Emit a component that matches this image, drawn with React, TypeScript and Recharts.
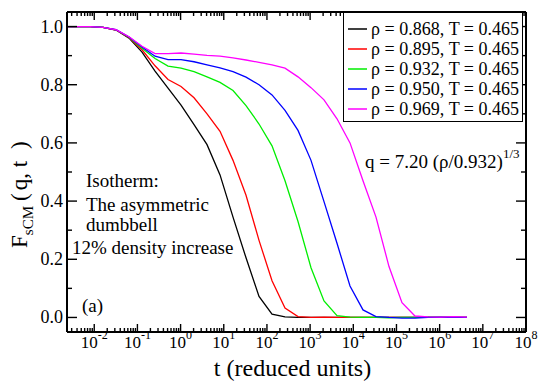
import React from "react";
import { LineChart, Line, XAxis, YAxis, Legend } from "recharts";

// time grid (reduced units), doubling each step
const TIMES = [
  0.002, 0.004, 0.008, 0.016, 0.032, 0.064, 0.128, 0.256, 0.512, 1.024, 2.048,
  4.096, 8.192, 16.384, 32.768, 65.536, 131.072, 262.144, 524.288, 1048.576,
  2097.152, 4194.304, 8388.608, 16777.216, 33554.432, 67108.864, 134217.728,
  268435.456, 536870.912, 1073741.824, 2147483.648, 4294967.296,
];

// F_sCM(q, t) for each density at T = 0.465
const F_0868 = [
  1.0, 1.0, 1.0, 0.997, 0.988, 0.96, 0.912, 0.847, 0.788, 0.73, 0.663, 0.594,
  0.49, 0.345, 0.205, 0.072, 0.011, 0.002, 0.0, 0.0, 0.0, 0.0, 0.0, 0.0, 0.0,
  0.0, 0.0, 0.0, 0.0, 0.0, 0.0, 0.0,
];
const F_0895 = [
  1.0, 1.0, 1.0, 0.997, 0.988, 0.962, 0.92, 0.865, 0.818, 0.794, 0.755, 0.7,
  0.64, 0.54, 0.42, 0.265, 0.126, 0.032, 0.003, 0.0, 0.001, 0.0, 0.0, 0.0, 0.0,
  0.0, 0.0, 0.0, 0.0, 0.0, 0.0, 0.0,
];
const F_0932 = [
  1.0, 1.0, 1.0, 0.997, 0.989, 0.963, 0.925, 0.89, 0.864, 0.857, 0.845, 0.827,
  0.808, 0.78, 0.728, 0.665, 0.59, 0.47, 0.33, 0.171, 0.057, 0.006, 0.001, 0.0,
  0.0, -0.001, 0.0, 0.0, 0.001, 0.0, 0.0, 0.0,
];
const F_0950 = [
  1.0, 1.0, 1.0, 0.997, 0.989, 0.964, 0.93, 0.898, 0.886, 0.886, 0.879, 0.868,
  0.858, 0.845, 0.826, 0.8, 0.765, 0.712, 0.643, 0.54, 0.398, 0.255, 0.108,
  0.026, 0.003, 0.0, -0.002, -0.002, 0.0, 0.001, 0.0, 0.0,
];
const F_0969 = [
  1.0, 1.0, 1.0, 0.997, 0.989, 0.965, 0.932, 0.907, 0.907, 0.909, 0.905, 0.901,
  0.898, 0.892, 0.885, 0.877, 0.868, 0.857, 0.827, 0.79, 0.748, 0.683, 0.6,
  0.47, 0.345, 0.175, 0.051, 0.005, 0.002, 0.001, 0.003, 0.001,
];

const SERIES_NAMES = [
  "ρ = 0.868, T = 0.465",
  "ρ = 0.895, T = 0.465",
  "ρ = 0.932, T = 0.465",
  "ρ = 0.950, T = 0.465",
  "ρ = 0.969, T = 0.465",
];
const SERIES_VALUES = [F_0868, F_0895, F_0932, F_0950, F_0969];
const COLORS = ["#000000", "#ff0000", "#00ee00", "#0000ff", "#ff00ff"];

// axes
const X_MIN = 0.00234;
const X_MAX = 1e8;
const Y_TICKS = [0, 0.1, 0.2, 0.3, 0.4, 0.5, 0.6, 0.7, 0.8, 0.9, 1.0];

const FONT = "Liberation Serif, DejaVu Serif, serif";

const X_TICKS: number[] = [];
for (let e = -3; e <= 7; e++) {
  for (let m = 1; m <= 9; m++) {
    const v = m * Math.pow(10, e);
    if (v > X_MIN && v < X_MAX) X_TICKS.push(v);
  }
}
X_TICKS.push(X_MAX);

const data = TIMES.map((t, i) => {
  const row: Record<string, number> = { t };
  SERIES_VALUES.forEach((vals, j) => {
    row[`s${j}`] = vals[i];
  });
  return row;
});

const isMajorX = (v: number) => {
  const lg = Math.log10(v);
  return Math.abs(lg - Math.round(lg)) < 1e-6;
};
const isMajorY = (v: number) => Math.abs(v * 5 - Math.round(v * 5)) < 1e-6;

const txt = { fontFamily: FONT, fill: "#000" };

const BottomTick = ({ x, y, payload }: any) => {
  const major = isMajorX(payload.value);
  const e = Math.round(Math.log10(payload.value));
  return (
    <g>
      <line x1={x} x2={x} y1={y} y2={y - (major ? 8 : 4)} stroke="#000" strokeWidth={1.4} />
      {major && (
        <text x={x} y={y + 16} textAnchor="middle" style={txt} fontSize={17}>
          10
          <tspan dy={-9} fontSize={12}>
            {e}
          </tspan>
        </text>
      )}
    </g>
  );
};

const TopTick = ({ x, y, payload }: any) => {
  const major = isMajorX(payload.value);
  return <line x1={x} x2={x} y1={y} y2={y + (major ? 8 : 4)} stroke="#000" strokeWidth={1.4} />;
};

const LeftTick = ({ x, y, payload }: any) => {
  const major = isMajorY(payload.value);
  return (
    <g>
      <line x1={x} x2={x + (major ? 10 : 5)} y1={y} y2={y} stroke="#000" strokeWidth={1.4} />
      {major && (
        <text x={x - 4} y={y + 6} textAnchor="end" style={txt} fontSize={18}>
          {payload.value.toFixed(1)}
        </text>
      )}
    </g>
  );
};

const RightTick = ({ x, y, payload }: any) => {
  const major = isMajorY(payload.value);
  return <line x1={x} x2={x - (major ? 10 : 5)} y1={y} y2={y} stroke="#000" strokeWidth={1.4} />;
};

const LegendBox = () => (
  <div
    style={{
      border: "1.5px solid #000",
      background: "#fff",
      padding: "6px 4px 2px 4px",
      fontFamily: FONT,
      fontSize: 18,
      color: "#000",
    }}
  >
    {SERIES_NAMES.map((name, i) => (
      <div key={name} style={{ display: "flex", alignItems: "center", height: 20, whiteSpace: "nowrap" }}>
        <svg width={23} height={20} style={{ flex: "none" }}>
          <line x1={0} x2={19} y1={10} y2={10} stroke={COLORS[i]} strokeWidth={1.5} />
        </svg>
        <span>{name}</span>
      </div>
    ))}
  </div>
);

export default function App() {
  return (
    <div style={{ position: "absolute", left: 0, top: 0, width: 538, height: 381, background: "#fff", fontFamily: FONT }}>
      <LineChart width={538} height={381} data={data} margin={{ top: 0, right: 0, bottom: 0, left: 0 }}>
        <XAxis
          dataKey="t"
          type="number"
          scale="log"
          domain={[X_MIN, X_MAX]}
          allowDataOverflow
          ticks={X_TICKS}
          interval={0}
          height={49}
          tickSize={0}
          tickMargin={0}
          tickLine={false}
          tick={<BottomTick />}
          axisLine={{ stroke: "#000", strokeWidth: 2 }}
        />
        <XAxis
          xAxisId="top"
          orientation="top"
          dataKey="t"
          type="number"
          scale="log"
          domain={[X_MIN, X_MAX]}
          allowDataOverflow
          ticks={X_TICKS}
          interval={0}
          height={12}
          tickSize={0}
          tickMargin={0}
          tickLine={false}
          tick={<TopTick />}
          axisLine={{ stroke: "#000", strokeWidth: 2 }}
        />
        <YAxis
          type="number"
          domain={[-0.05, 1.05]}
          allowDataOverflow
          ticks={Y_TICKS}
          interval={0}
          width={67}
          tickSize={0}
          tickMargin={0}
          tickLine={false}
          tick={<LeftTick />}
          axisLine={{ stroke: "#000", strokeWidth: 2 }}
        />
        <YAxis
          yAxisId="right"
          orientation="right"
          type="number"
          domain={[-0.05, 1.05]}
          allowDataOverflow
          ticks={Y_TICKS}
          interval={0}
          width={12}
          tickSize={0}
          tickMargin={0}
          tickLine={false}
          tick={<RightTick />}
          axisLine={{ stroke: "#000", strokeWidth: 2 }}
        />
        {SERIES_NAMES.map((name, j) => (
          <Line
            key={name}
            dataKey={`s${j}`}
            name={name}
            stroke={COLORS[j]}
            strokeWidth={1.3}
            dot={false}
            type="linear"
            isAnimationActive={false}
          />
        ))}
        <Legend
          layout="vertical"
          align="center"
          verticalAlign="middle"
          content={<LegendBox />}
          wrapperStyle={{ left: 343, top: 12, width: 180, height: "auto" }}
        />
      </LineChart>
      <svg
        width={538}
        height={381}
        style={{ position: "absolute", left: 0, top: 0, pointerEvents: "none", fontFamily: FONT }}
        fill="#000"
      >
        <text x={86} y={187} fontSize={19}>Isotherm:</text>
        <text x={86} y={211} fontSize={19}>The asymmetric</text>
        <text x={86} y={231} fontSize={19}>dumbbell</text>
        <text x={72} y={254} fontSize={19}>12% density increase</text>
        <text x={82} y={312} fontSize={19}>(a)</text>
        <text x={365} y={168} fontSize={19}>
          q = 7.20 (ρ/0.932)
          <tspan dy={-10} fontSize={13}>1/3</tspan>
        </text>
        <text x={292.5} y={376} fontSize={24} textAnchor="middle">
          t (reduced units)
        </text>
        <text transform="translate(27,248) rotate(-90)" fontSize={23}>
          F
          <tspan dy={6} fontSize={15}>sCM</tspan>
          <tspan dy={-6} dx={5}>(</tspan>
          <tspan dx={3}>q, t</tspan>
          <tspan dx={12}>)</tspan>
        </text>
      </svg>
    </div>
  );
}
